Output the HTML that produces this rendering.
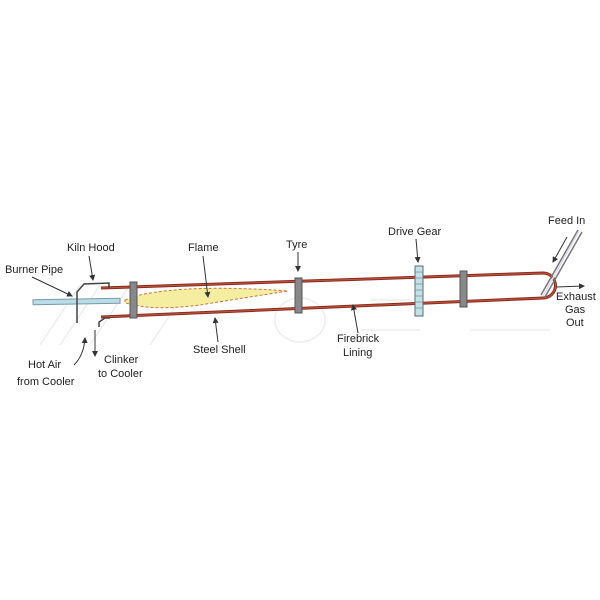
<!DOCTYPE html>
<html><head><style>
body{margin:0;background:#fff;}
svg{display:block;}
text{font-family:"Liberation Sans",sans-serif;font-size:11px;fill:#222;}
</style></head><body>
<svg width="600" height="600" viewBox="0 0 600 600">
<defs><marker id="a" markerWidth="6" markerHeight="6" refX="5" refY="3" orient="auto"><path d="M0,0 L6,3 L0,6z" fill="#333"/></marker></defs>
<g stroke="#eee" fill="none" stroke-width="1.5">
<path d="M40 345 L80 285 M60 345 L100 285 M90 345 L130 285 M150 345 L180 300"/>
<ellipse cx="300" cy="320" rx="25" ry="22"/>
<path d="M370 300 h40 M360 330 h60 M480 300 h60 M470 330 h80"/>
</g>
<path d="M101 288 L543 273 A12.5 12.5 0 0 1 543 298 L101 317" fill="none" stroke="#8b2a1e" stroke-width="3"/>
<path d="M101 288 L543 273 A12.5 12.5 0 0 1 543 298 L101 317" fill="none" stroke="#c0563e" stroke-width="1"/>
<path d="M125 300 L140 295 Q190 284 288 291 Q230 300 200 305 Q160 310 140 306 L125 303z" fill="#f5eea0" stroke="#c87838" stroke-width="1" stroke-dasharray="3,2"/>
<rect x="33" y="299" width="87" height="5" fill="#b8dce8" stroke="#7a9aa6" stroke-width="1" transform="rotate(-1 76 301)"/>
<path d="M77 323 L77 292 L84 284 L109 283 L109 288" fill="none" stroke="#444" stroke-width="1.5"/>
<path d="M99 327 L99 322 L105 318 L110 318" fill="none" stroke="#444" stroke-width="1.5"/>
<rect x="130" y="282" width="7" height="36" fill="#888" stroke="#555"/>
<rect x="295" y="278" width="7" height="35" fill="#888" stroke="#555"/>
<rect x="460" y="271" width="7" height="36" fill="#888" stroke="#555"/>
<rect x="415" y="266" width="8" height="50" fill="#bfe3e6" stroke="#667"/>
<g stroke="#889" stroke-width="0.8"><path d="M415 272h8M415 278h8M415 284h8M415 290h8M415 296h8M415 302h8M415 308h8"/></g>
<path d="M578 230 L541 295 M582 232 L545 297" stroke="#777" stroke-width="1.5"/>
<path d="M579 231 L543 296" stroke="#dde" stroke-width="1.5"/>
<text x="5" y="273">Burner Pipe</text>
<text x="67" y="251">Kiln Hood</text>
<text x="188" y="251">Flame</text>
<text x="286" y="248">Tyre</text>
<text x="388" y="235">Drive Gear</text>
<text x="548" y="224">Feed In</text>
<text x="556" y="300">Exhaust</text>
<text x="565" y="313">Gas</text>
<text x="566" y="326">Out</text>
<text x="193" y="353">Steel Shell</text>
<text x="337" y="342">Firebrick</text>
<text x="343" y="356">Lining</text>
<text x="28" y="368">Hot Air</text>
<text x="17" y="385">from Cooler</text>
<text x="104" y="363">Clinker</text>
<text x="98" y="377">to Cooler</text>
<g stroke="#333" stroke-width="1" fill="none" marker-end="url(#a)">
<path d="M32 277 L72 296"/>
<path d="M89 256 L93 280"/>
<path d="M203 256 L208 297"/>
<path d="M298 252 L298 271"/>
<path d="M416 239 L418 262"/>
<path d="M567 237 L553 262"/>
<path d="M556 287 L584 286"/>
<path d="M218 342 L215 318"/>
<path d="M358 333 L353 305"/>
<path d="M74 365 Q84 355 85 338"/>
<path d="M95 330 L95 356"/>
</g>
</svg>
</body></html>
